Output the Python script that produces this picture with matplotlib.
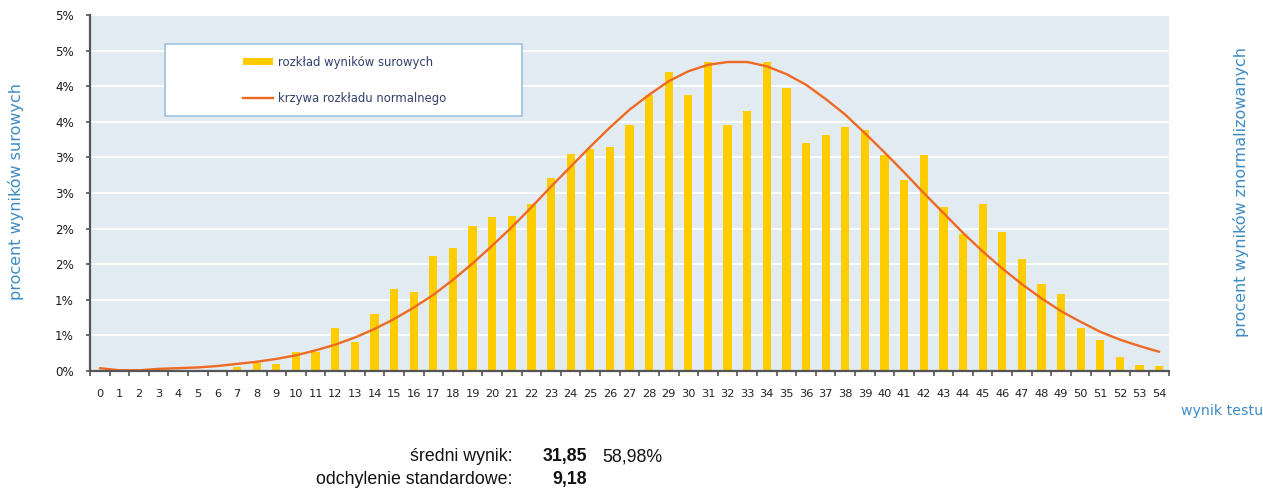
import matplotlib
matplotlib.use("Agg")
import matplotlib.pyplot as plt
from matplotlib.patches import Rectangle, Patch
from matplotlib.lines import Line2D
import numpy as np

# ---- data ----
scores = list(range(0, 55))
raw_pct = [0.0, 0.0, 0.0, 0.0, 0.0, 0.0, 0.0, 0.06, 0.11, 0.10,
           0.26, 0.27, 0.61, 0.41, 0.80, 1.15, 1.11, 1.62, 1.73, 2.04,
           2.16, 2.18, 2.35, 2.71, 3.05, 3.12, 3.14, 3.45, 3.87, 4.20,
           3.87, 4.34, 3.45, 3.65, 4.34, 3.97, 3.20, 3.32, 3.43, 3.39,
           3.03, 2.68, 3.03, 2.31, 1.93, 2.35, 1.95, 1.57, 1.22, 1.08,
           0.61, 0.43, 0.19, 0.08, 0.07]
normal_pct = [0.04, 0.01, 0.01, 0.03, 0.04, 0.05, 0.07, 0.10, 0.13, 0.17,
              0.22, 0.29, 0.37, 0.47, 0.59, 0.73, 0.89, 1.07, 1.28, 1.51,
              1.76, 2.02, 2.30, 2.59, 2.87, 3.15, 3.42, 3.67, 3.88, 4.07,
              4.21, 4.30, 4.34, 4.34, 4.28, 4.17, 4.02, 3.82, 3.60, 3.34,
              3.07, 2.79, 2.50, 2.22, 1.94, 1.68, 1.44, 1.22, 1.02, 0.84,
              0.69, 0.55, 0.44, 0.35, 0.27]
y_ticks = [0.0, 0.5, 1.0, 1.5, 2.0, 2.5, 3.0, 3.5, 4.0, 4.5, 5.0]
y_tick_labels = ['0%', '1%', '1%', '2%', '2%', '3%', '3%', '4%', '4%', '5%', '5%']
legend_labels = ['rozkład wyników surowych', 'krzywa rozkładu normalnego']
mean_score = '31,85'
mean_pct = '58,98%'
std_score = '9,18'

# ---- style ----
W, H = 1263, 488
fig = plt.figure(figsize=(W / 100, H / 100), dpi=100)
bg = '#E3EBF2'
bar_c = '#FFCC00'
line_c = '#EE6A22'
blue = '#3D8CC4'
axis_c = '#555555'

ax = fig.add_axes([90 / W, (H - 371) / H, 1079 / W, 356 / H])
ax.set_facecolor(bg)
ax.bar(scores, raw_pct, width=0.42, color=bar_c, zorder=3)
ax.plot(scores, normal_pct, color=line_c, lw=1.7, zorder=4, solid_capstyle='round')

ax.set_xlim(-0.5, 54.5)
ax.set_ylim(0, 5.0)
ax.set_yticks(y_ticks)
ax.set_yticklabels(y_tick_labels)
ax.set_xticks(scores)
ax.set_xticklabels([str(s) for s in scores])
ax.set_xticks(np.arange(-0.5, 55.0, 1.0), minor=True)
ax.tick_params(axis='x', which='major', length=0, pad=13, labelsize=8.2, colors='#222222')
ax.tick_params(axis='x', which='minor', length=3.5, width=1.2, color=axis_c, direction='out')
ax.tick_params(axis='y', which='major', length=3, width=1.2, color=axis_c, pad=8.5,
               labelsize=8.6, labelcolor='#1a1a1a')
ax.grid(axis='y', color='white', lw=1.3, zorder=1)
ax.set_axisbelow(True)
for s in ['top', 'right']:
    ax.spines[s].set_visible(False)
for s in ['left', 'bottom']:
    ax.spines[s].set_color(axis_c)
    ax.spines[s].set_linewidth(1.6)
    ax.spines[s].set_zorder(5)

# legend box
lx0, ly0 = 165, 44
lw_, lh_ = 357, 72
fig.patches.append(Rectangle((lx0 / W, (H - ly0 - lh_) / H), lw_ / W, lh_ / H,
                             transform=fig.transFigure, facecolor='white',
                             edgecolor='#9DC0DD', lw=1.2, zorder=6))
handles = [Patch(facecolor=bar_c, edgecolor='none'),
           Line2D([0], [0], color=line_c, lw=1.7)]
leg = fig.legend(handles, legend_labels, loc='center left',
                 bbox_to_anchor=(243 / W, (H - 80.5) / H), frameon=False,
                 fontsize=8.4, handlelength=2.6, handleheight=0.55,
                 handletextpad=0.4, labelspacing=2.0, borderaxespad=0,
                 borderpad=0)
for t in leg.get_texts():
    t.set_color('#34406E')
leg.set_zorder(7)

# axis titles
fig.text(16 / W, (H - 192) / H, 'procent wyników surowych', rotation=90,
         ha='center', va='center', color=blue, fontsize=11.5)
fig.text(1241 / W, (H - 192) / H, 'procent wyników znormalizowanych', rotation=90,
         ha='center', va='center', color=blue, fontsize=11.5)
fig.text(1263 / W, (H - 411) / H, 'wynik testu', ha='right', va='center',
         color=blue, fontsize=10.2)

# stats
ff = 'Liberation Sans'
fs = 12.8
b1 = (H - 461) / H
b2 = (H - 484) / H
fig.text(512 / W, b1, 'średni wynik:', ha='right', va='baseline',
         fontsize=fs, family=ff, color='#111111')
fig.text(587 / W, b1, mean_score, ha='right', va='baseline',
         fontsize=fs, family=ff, weight='bold', color='#111111')
fig.text(602 / W, b1, mean_pct, ha='left', va='baseline',
         fontsize=fs, family=ff, color='#111111')
fig.text(512 / W, b2, 'odchylenie standardowe:', ha='right', va='baseline',
         fontsize=fs, family=ff, color='#111111')
fig.text(587 / W, b2, std_score, ha='right', va='baseline',
         fontsize=fs, family=ff, weight='bold', color='#111111')

fig.savefig('out.png', dpi=100, facecolor='white')
